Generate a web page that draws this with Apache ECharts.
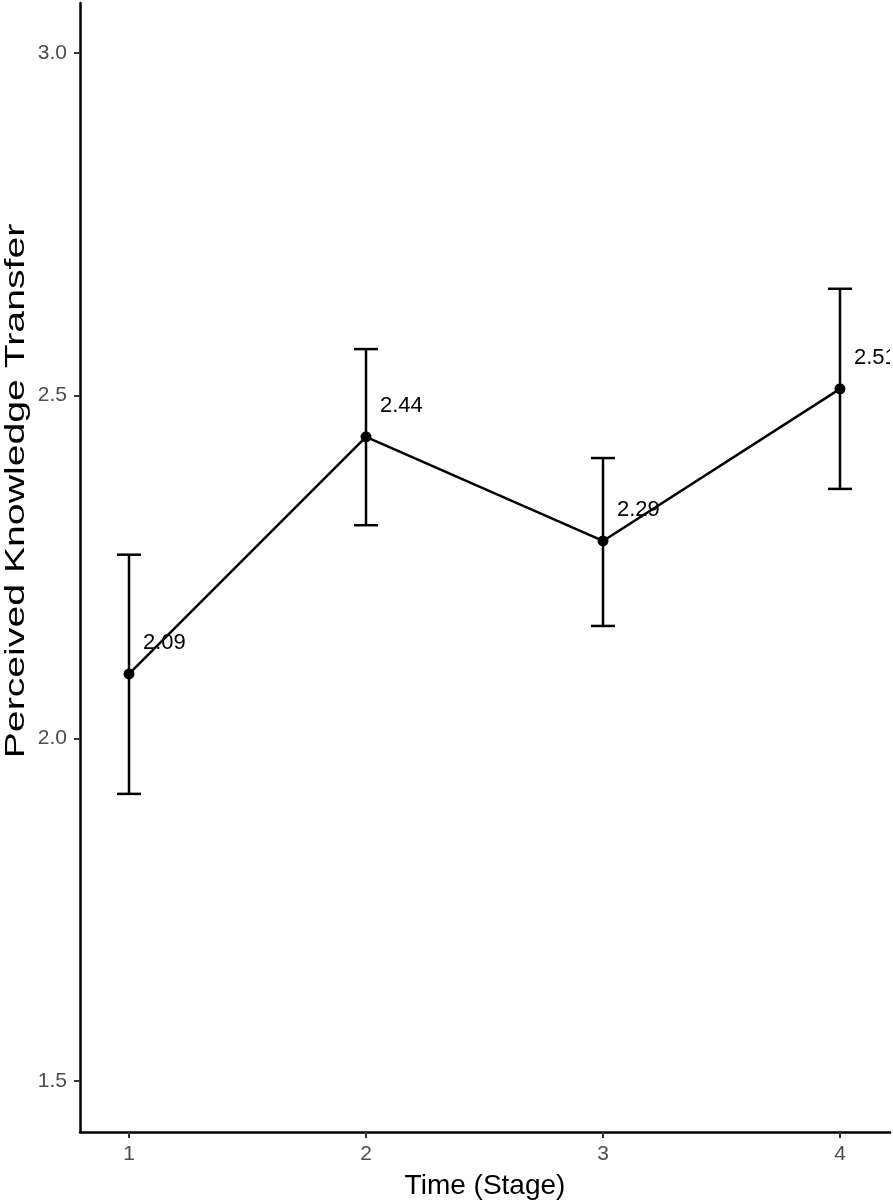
<!DOCTYPE html>
<html>
<head>
<meta charset="utf-8">
<script src="https://cdn.jsdelivr.net/npm/echarts@6/dist/echarts.min.js"></script>
<style>
  html, body { margin: 0; padding: 0; background: #fff; }
  #chart1 { width: 893px; height: 1202px; }
</style>
</head>
<body>
<div id="chart1"></div>
<script>
// data
var stages = [1, 2, 3, 4];
var means = [2.094, 2.440, 2.288, 2.510];
var lower = [1.919, 2.311, 2.164, 2.364];
var upper = [2.268, 2.568, 2.409, 2.656];
var meanLabels = ['2.09', '2.44', '2.29', '2.51'];
var yTicks = [1.5, 2.0, 2.5, 3.0];

var chartDom = document.getElementById('chart1');
var myChart = echarts.init(chartDom);
var option;

var pointData = stages.map(function (s, i) { return [s, means[i]]; });
var barData = stages.map(function (s, i) { return [s, lower[i], upper[i]]; });
var labelData = stages.map(function (s, i) { return [s, means[i], meanLabels[i]]; });

option = {
  animation: false,
  backgroundColor: '#fff',
  textStyle: { fontFamily: 'Liberation Sans, Arial, sans-serif' },
  grid: { left: 80, right: 3, top: 3, bottom: 70, containLabel: false, outerBoundsMode: 'none' },
  // y title drawn as graphic text so it can be stretched like the reference
  graphic: [
    {
      type: 'text',
      x: 16,
      y: 491,
      rotation: Math.PI / 2,
      scaleX: 1.4,
      style: {
        text: 'Perceived Knowledge Transfer',
        fill: '#000',
        font: '28px Liberation Sans, Arial, sans-serif',
        textAlign: 'center',
        textVerticalAlign: 'middle'
      }
    }
  ],
  xAxis: {
    type: 'value',
    min: 0.7932,
    max: 4.211,
    name: 'Time (Stage)',
    nameLocation: 'middle',
    nameGap: 40,
    nameTextStyle: { fontSize: 28, color: '#000' },
    splitLine: { show: false },
    axisLine: { lineStyle: { color: '#000', width: 2.5 } },
    axisTick: { length: 6, lineStyle: { color: '#333', width: 2 }, customValues: stages },
    axisLabel: { fontSize: 21, color: '#4d4d4d', margin: 12, customValues: stages }
  },
  yAxis: {
    type: 'value',
    min: 1.4256,
    max: 3.073,
    splitLine: { show: false },
    axisLine: { lineStyle: { color: '#000', width: 2.5 } },
    axisTick: { length: 6, lineStyle: { color: '#333', width: 2 }, customValues: yTicks },
    axisLabel: {
      fontSize: 21, color: '#4d4d4d', margin: 13, customValues: yTicks,
      formatter: function (v) { return v.toFixed(1); }
    }
  },
  series: [
    {
      type: 'custom',
      name: 'error',
      data: barData,
      renderItem: function (params, api) {
        var x = api.value(0);
        var lo = api.coord([x, api.value(1)]);
        var hi = api.coord([x, api.value(2)]);
        var half = 12;
        var style = { stroke: '#000', lineWidth: 2.5 };
        return {
          type: 'group',
          children: [
            { type: 'line', shape: { x1: lo[0], y1: lo[1], x2: hi[0], y2: hi[1] }, style: style },
            { type: 'line', shape: { x1: hi[0] - half, y1: hi[1], x2: hi[0] + half, y2: hi[1] }, style: style },
            { type: 'line', shape: { x1: lo[0] - half, y1: lo[1], x2: lo[0] + half, y2: lo[1] }, style: style }
          ]
        };
      },
      z: 2
    },
    {
      type: 'line',
      data: pointData,
      symbol: 'circle',
      symbolSize: 11,
      itemStyle: { color: '#000' },
      lineStyle: { color: '#000', width: 2.5 },
      z: 3
    },
    {
      type: 'custom',
      name: 'labels',
      clip: true,
      data: labelData,
      renderItem: function (params, api) {
        var p = api.coord([api.value(0), api.value(1)]);
        return {
          type: 'text',
          x: p[0] + 14,
          y: p[1] - 31,
          style: {
            text: labelData[params.dataIndex][2],
            fill: '#000',
            font: '22px Liberation Sans, Arial, sans-serif',
            textAlign: 'left',
            textVerticalAlign: 'middle'
          }
        };
      },
      z: 4
    }
  ]
};

option && myChart.setOption(option);
window.onresize = function() {
  myChart.resize();
};
</script>
</body>
</html>
